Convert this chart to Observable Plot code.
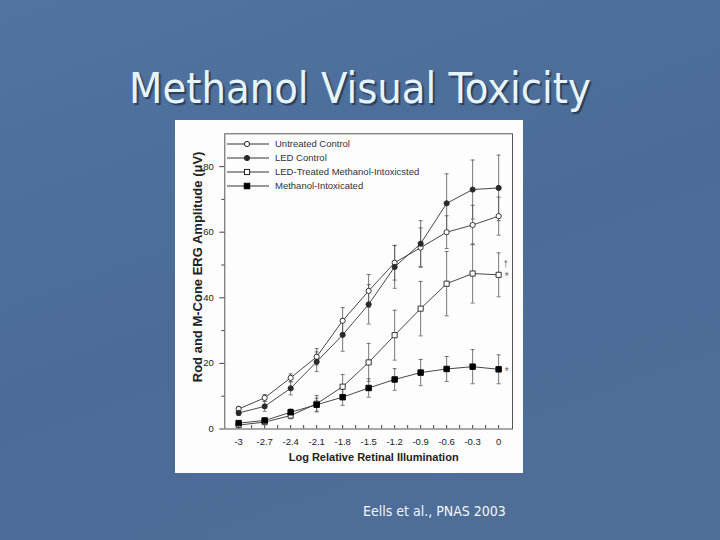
<!DOCTYPE html>
<html>
<head>
<meta charset="utf-8">
<script src="https://cdn.jsdelivr.net/npm/d3@7"></script>
<script src="https://cdn.jsdelivr.net/npm/@observablehq/plot@0.6"></script>
<style>
  html, body { margin: 0; padding: 0; }
  body {
    width: 720px; height: 540px; position: relative; overflow: hidden;
    background: linear-gradient(160deg, #5173a0 0%, #4c6c97 50%, #4f6f99 100%);
  }
  #title {
    position: absolute; left: 0; top: 67px; width: 720px; text-align: center;
    font-family: "DejaVu Sans Condensed", "DejaVu Sans", sans-serif; font-size: 43px; line-height: 42px;
    color: #e6f5fc; text-shadow: 2px 2px 1px #2a3f5c;
  }
  #caption {
    position: absolute; left: 363px; top: 504px;
    font-family: "DejaVu Sans Condensed", "DejaVu Sans", sans-serif; font-size: 14px; line-height: 14px;
    color: #f2f6fa;
  }
  #chart { position: absolute; left: 175px; top: 120px; width: 348px; height: 353px; background: #fdfdfd; }
  #legend { position: absolute; left: 52px; top: 16.5px; font-family: "Liberation Sans", Arial, sans-serif; font-size: 9.5px; color: #333; }
  #legend .row { height: 14px; display: flex; align-items: center; }
  #legend svg { margin-right: 6px; }
</style>
</head>
<body>
<div id="title">Methanol Visual Toxicity</div>
<div id="chart"><div id="legend"></div></div>
<div id="caption">Eells et al., PNAS 2003</div>
<script>
// ---- data ----
const xs = [-3, -2.7, -2.4, -2.1, -1.8, -1.5, -1.2, -0.9, -0.6, -0.3, 0];
const xTickLabels = ["-3", "-2.7", "-2.4", "-2.1", "-1.8", "-1.5", "-1.2", "-0.9", "-0.6", "-0.3", "0"];
const yTicks = [0, 20, 40, 60, 80];
const yMinorTicks = [10, 30, 50, 70];

const seriesNames = ["Untreated Control", "LED Control", "LED-Treated Methanol-Intoxicsted", "Methanol-Intoxicated"];
const untreated    = [6.1, 9.5, 15.6, 22.0, 33.0, 42.1, 50.7, 55.3, 60.0, 62.2, 64.9];
const untreatedErr = [0.8, 1.0, 1.2, 2.5, 4.0, 5.0, 5.3, 6.0, 5.0, 6.0, 5.8];
const ledControl    = [4.9, 6.9, 12.4, 20.5, 28.7, 38.0, 49.4, 56.5, 68.8, 73.0, 73.5];
const ledControlErr = [0.8, 1.5, 2.0, 3.0, 5.0, 6.0, 6.5, 7.0, 9.0, 9.0, 10.0];
const ledTreated    = [1.2, 2.1, 4.1, 7.7, 12.9, 20.3, 28.6, 36.7, 44.3, 47.4, 47.0];
const ledTreatedErr = [0.5, 0.5, 1.0, 2.5, 3.7, 5.8, 7.6, 8.3, 9.8, 9.0, 6.7];
const methanol    = [1.8, 2.6, 5.1, 7.4, 9.7, 12.5, 15.1, 17.2, 18.3, 19.0, 18.2];
const methanolErr = [0.5, 0.7, 1.0, 2.0, 2.5, 2.8, 3.3, 4.0, 3.8, 5.2, 4.4];

const xLabel = "Log Relative Retinal Illumination";
const yLabel = "Rod and M-Cone ERG Amplitude (\u03bcV)";

// ---- build table ----
const seriesValues = [untreated, ledControl, ledTreated, methanol];
const seriesErrors = [untreatedErr, ledControlErr, ledTreatedErr, methanolErr];
const styles = [
  {symbol: "circle", fill: "#ffffff", stroke: "#222", r: 2.6},
  {symbol: "circle", fill: "#2a2a2a", stroke: "#2a2a2a", r: 2.6},
  {symbol: "square", fill: "#ffffff", stroke: "#222", r: 2.9},
  {symbol: "square", fill: "#000000", stroke: "#000", r: 3.1}
];
const rows = [];
seriesNames.forEach((name, s) => {
  xs.forEach((x, i) => rows.push({series: name, s, x, y: seriesValues[s][i], err: seriesErrors[s][i]}));
});
const xMinor = [];
xs.forEach((x, i) => { xMinor.push(x); if (i < xs.length - 1) xMinor.push((x + xs[i + 1]) / 2); });

const capSymbol = {
  draw(ctx, size) { const w = Math.sqrt(size / Math.PI); ctx.moveTo(-w, 0); ctx.lineTo(w, 0); }
};

const lastOf = (arr) => ({x: xs[xs.length - 1], y: arr[arr.length - 1]});

const marks = [
  Plot.frame({stroke: "#555", strokeWidth: 1}),
  // error bars
  Plot.ruleX(rows, {x: "x", y1: d => d.y - d.err, y2: d => d.y + d.err, stroke: "#555", strokeWidth: 0.8}),
  Plot.dot(rows, {x: "x", y: d => d.y + d.err, symbol: capSymbol, r: 2, stroke: "#555", strokeWidth: 0.8}),
  Plot.dot(rows, {x: "x", y: d => d.y - d.err, symbol: capSymbol, r: 2, stroke: "#555", strokeWidth: 0.8}),
];
seriesNames.forEach((name, s) => {
  const data = rows.filter(d => d.s === s);
  marks.push(Plot.line(data, {x: "x", y: "y", stroke: "#333", strokeWidth: 0.9}));
});
seriesNames.forEach((name, s) => {
  const data = rows.filter(d => d.s === s);
  const st = styles[s];
  marks.push(Plot.dot(data, {x: "x", y: "y", symbol: st.symbol, r: st.r, fill: st.fill, stroke: st.stroke, strokeWidth: 0.9}));
});
marks.push(
  Plot.text([lastOf(ledTreated)], {x: "x", y: "y", text: () => "*", dx: 8, dy: 2, fontSize: 10, fill: "#666"}),
  Plot.text([lastOf(ledTreated)], {x: "x", y: "y", text: () => "\u2020", dx: 7, dy: -11, fontSize: 9, fill: "#666"}),
  Plot.text([lastOf(methanol)], {x: "x", y: "y", text: () => "*", dx: 8, dy: 2, fontSize: 10, fill: "#666"}),
  // axes
  Plot.axisX({ticks: xMinor, tickSize: -3.5, tickFormat: () => "", stroke: "#444", label: null}),
  Plot.axisX({ticks: xs, tickSize: 0, tickPadding: 9, tickFormat: (d, i) => xTickLabels[i], fontSize: 9.5, fill: "#222", label: null}),
  Plot.axisY({ticks: yTicks, tickSize: 5, tickPadding: 6, tickFormat: d => String(d), fontSize: 9.5, fill: "#222", label: null, stroke: "#444"}),
  Plot.axisY({ticks: yMinorTicks, tickSize: 3, tickFormat: () => "", label: null, stroke: "#444"}),
  Plot.text([yLabel], {frameAnchor: "left", textAnchor: "middle", rotate: -90, dx: -26.6, dy: -14.5, fontSize: 13, fontWeight: "bold", fill: "#222"}),
  Plot.text([xLabel], {frameAnchor: "bottom", textAnchor: "middle", dx: 5, dy: 31.5, fontSize: 11, fontWeight: "bold", fill: "#222"})
);

const chart = Plot.plot({
  width: 348, height: 353,
  marginLeft: 49.3, marginRight: 11, marginTop: 13.3, marginBottom: 44.5,
  style: {background: "transparent", fontFamily: "'Liberation Sans', Arial, sans-serif", overflow: "visible"},
  x: {domain: [-3.16, 0.16]},
  y: {domain: [0, 90]},
  marks
});
document.getElementById("chart").prepend(chart);

// ---- legend ----
const legend = document.getElementById("legend");
seriesNames.forEach((name, s) => {
  const st = styles[s];
  const row = document.createElement("div");
  row.className = "row";
  const svg = d3.create("svg").attr("width", 42).attr("height", 10);
  svg.append("line").attr("x1", 0).attr("x2", 42).attr("y1", 5).attr("y2", 5).attr("stroke", "#333").attr("stroke-width", 1);
  if (st.symbol === "circle") {
    svg.append("circle").attr("cx", 20).attr("cy", 5).attr("r", st.r).attr("fill", st.fill).attr("stroke", st.stroke);
  } else {
    const side = st.r * 1.77;
    svg.append("rect").attr("x", 20 - side / 2).attr("y", 5 - side / 2).attr("width", side).attr("height", side).attr("fill", st.fill).attr("stroke", st.stroke);
  }
  row.appendChild(svg.node());
  const span = document.createElement("span");
  span.textContent = name;
  row.appendChild(span);
  legend.appendChild(row);
});
</script>
</body>
</html>
